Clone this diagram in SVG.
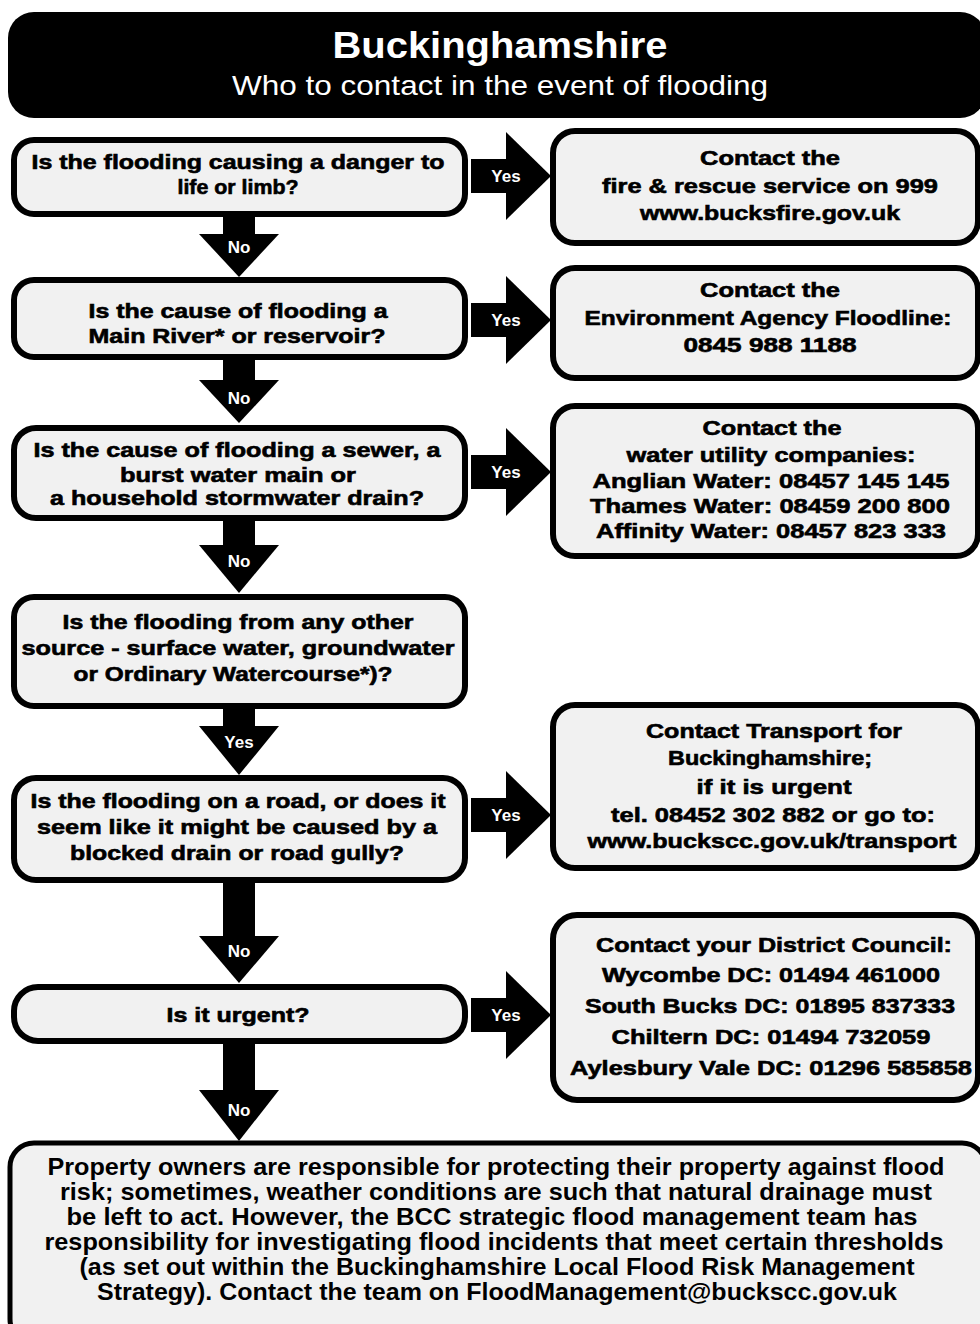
<svg xmlns="http://www.w3.org/2000/svg" width="980" height="1324" viewBox="0 0 980 1324">
<style>
.box{fill:#f1f1f1;stroke:#000;stroke-width:6}
.q{font-family:"Liberation Sans",Arial,sans-serif;font-weight:bold;font-size:20px;fill:#000;stroke:#000;stroke-width:0.6;text-anchor:middle}
.hd{font-family:"Liberation Sans",Arial,sans-serif;fill:#fff;text-anchor:middle}
.nb{font-family:"Liberation Sans",Arial,sans-serif;font-weight:bold;font-size:24px;fill:#000;text-anchor:middle}
.arr{fill:#000}
.lab{font-family:"Liberation Sans",Arial,sans-serif;font-weight:bold;font-size:17px;fill:#fff;text-anchor:middle}
</style>
<rect width="980" height="1324" fill="#fff"/>
<g id="header">
<rect x="8" y="12" width="978" height="106" rx="26" fill="#000"/>
<text class="hd" x="500" y="58" font-size="37" font-weight="bold" textLength="335" lengthAdjust="spacingAndGlyphs">Buckinghamshire</text>
<text class="hd" x="500" y="95" font-size="28" textLength="536" lengthAdjust="spacingAndGlyphs">Who to contact in the event of flooding</text>
</g>
<g id="connectors">
<rect class="arr" x="471" y="159" width="38" height="34"/><polygon class="arr" points="506,132 551,176 506,220"/><text class="lab" x="506" y="182">Yes</text>
<rect class="arr" x="471" y="303" width="38" height="34"/><polygon class="arr" points="506,276 551,320 506,364"/><text class="lab" x="506" y="326">Yes</text>
<rect class="arr" x="471" y="455" width="38" height="34"/><polygon class="arr" points="506,428 551,472 506,516"/><text class="lab" x="506" y="478">Yes</text>
<rect class="arr" x="471" y="798" width="38" height="34"/><polygon class="arr" points="506,771 551,815 506,859"/><text class="lab" x="506" y="821">Yes</text>
<rect class="arr" x="471" y="998" width="38" height="34"/><polygon class="arr" points="506,971 551,1015 506,1059"/><text class="lab" x="506" y="1021">Yes</text>
<rect class="arr" x="223" y="215" width="32" height="21"/><polygon class="arr" points="199,234 279,234 239,277"/><text class="lab" x="239" y="253">No</text>
<rect class="arr" x="223" y="358" width="32" height="24"/><polygon class="arr" points="199,380 279,380 239,423"/><text class="lab" x="239" y="404">No</text>
<rect class="arr" x="223" y="520" width="32" height="27"/><polygon class="arr" points="199,545 279,545 239,593"/><text class="lab" x="239" y="567">No</text>
<rect class="arr" x="223" y="707" width="32" height="21"/><polygon class="arr" points="199,726 279,726 239,775"/><text class="lab" x="239" y="748">Yes</text>
<rect class="arr" x="223" y="882" width="32" height="56"/><polygon class="arr" points="199,936 279,936 239,983"/><text class="lab" x="239" y="957">No</text>
<rect class="arr" x="223" y="1043" width="32" height="49"/><polygon class="arr" points="199,1090 279,1090 239,1141"/><text class="lab" x="239" y="1116">No</text>
</g>
<g id="q1">
<rect class="box" x="14" y="140" width="451" height="74" rx="20"/>
<text class="q" x="238" y="169" textLength="413" lengthAdjust="spacingAndGlyphs">Is the flooding causing a danger to</text>
<text class="q" x="238" y="194" textLength="121" lengthAdjust="spacingAndGlyphs">life or limb?</text>
</g>
<g id="q2">
<rect class="box" x="14" y="280" width="451" height="77" rx="20"/>
<text class="q" x="238" y="318" textLength="299" lengthAdjust="spacingAndGlyphs">Is the cause of flooding a</text>
<text class="q" x="237" y="343" textLength="297" lengthAdjust="spacingAndGlyphs">Main River* or reservoir?</text>
</g>
<g id="q3">
<rect class="box" x="14" y="428" width="451" height="90" rx="22"/>
<text class="q" x="237" y="457" textLength="407" lengthAdjust="spacingAndGlyphs">Is the cause of flooding a sewer, a</text>
<text class="q" x="238" y="482" textLength="236" lengthAdjust="spacingAndGlyphs">burst water main or</text>
<text class="q" x="237" y="505" textLength="374" lengthAdjust="spacingAndGlyphs">a household stormwater drain?</text>
</g>
<g id="q4">
<rect class="box" x="14" y="597" width="451" height="109" rx="20"/>
<text class="q" x="238" y="629" textLength="351" lengthAdjust="spacingAndGlyphs">Is the flooding from any other</text>
<text class="q" x="238" y="655" textLength="433" lengthAdjust="spacingAndGlyphs">source - surface water, groundwater</text>
<text class="q" x="233" y="681" textLength="319" lengthAdjust="spacingAndGlyphs">or Ordinary Watercourse*)?</text>
</g>
<g id="q5">
<rect class="box" x="14" y="778" width="451" height="102" rx="22"/>
<text class="q" x="238" y="808" textLength="415" lengthAdjust="spacingAndGlyphs">Is the flooding on a road, or does it</text>
<text class="q" x="237" y="834" textLength="400" lengthAdjust="spacingAndGlyphs">seem like it might be caused by a</text>
<text class="q" x="237" y="860" textLength="334" lengthAdjust="spacingAndGlyphs">blocked drain or road gully?</text>
</g>
<g id="q6">
<rect class="box" x="14" y="987" width="451" height="54" rx="24"/>
<text class="q" x="238" y="1022" textLength="143" lengthAdjust="spacingAndGlyphs">Is it urgent?</text>
</g>
<g id="r1">
<rect class="box" x="553" y="131" width="425" height="112" rx="22"/>
<text class="q" x="770" y="165" textLength="140" lengthAdjust="spacingAndGlyphs">Contact the</text>
<text class="q" x="770" y="193" textLength="336" lengthAdjust="spacingAndGlyphs">fire &amp; rescue service on 999</text>
<text class="q" x="770" y="220" textLength="260" lengthAdjust="spacingAndGlyphs">www.bucksfire.gov.uk</text>
</g>
<g id="r2">
<rect class="box" x="553" y="268" width="425" height="110" rx="22"/>
<text class="q" x="770" y="297" textLength="140" lengthAdjust="spacingAndGlyphs">Contact the</text>
<text class="q" x="768" y="325" textLength="367" lengthAdjust="spacingAndGlyphs">Environment Agency Floodline:</text>
<text class="q" x="770" y="352" textLength="173" lengthAdjust="spacingAndGlyphs">0845 988 1188</text>
</g>
<g id="r3">
<rect class="box" x="553" y="406" width="425" height="150" rx="22"/>
<text class="q" x="772" y="435" textLength="139" lengthAdjust="spacingAndGlyphs">Contact the</text>
<text class="q" x="771" y="462" textLength="289" lengthAdjust="spacingAndGlyphs">water utility companies:</text>
<text class="q" x="771" y="488" textLength="357" lengthAdjust="spacingAndGlyphs">Anglian Water: 08457 145 145</text>
<text class="q" x="770" y="513" textLength="360" lengthAdjust="spacingAndGlyphs">Thames Water: 08459 200 800</text>
<text class="q" x="771" y="538" textLength="350" lengthAdjust="spacingAndGlyphs">Affinity Water: 08457 823 333</text>
</g>
<g id="r5">
<rect class="box" x="553" y="705" width="425" height="163" rx="22"/>
<text class="q" x="774" y="738" textLength="256" lengthAdjust="spacingAndGlyphs">Contact Transport for</text>
<text class="q" x="770" y="765" textLength="204" lengthAdjust="spacingAndGlyphs">Buckinghamshire;</text>
<text class="q" x="774" y="794" textLength="155" lengthAdjust="spacingAndGlyphs">if it is urgent</text>
<text class="q" x="773" y="822" textLength="324" lengthAdjust="spacingAndGlyphs">tel. 08452 302 882 or go to:</text>
<text class="q" x="772" y="848" textLength="369" lengthAdjust="spacingAndGlyphs">www.buckscc.gov.uk/transport</text>
</g>
<g id="r6">
<rect class="box" x="553" y="915" width="425" height="185" rx="24"/>
<text class="q" x="774" y="952" textLength="356" lengthAdjust="spacingAndGlyphs">Contact your District Council:</text>
<text class="q" x="771" y="982" textLength="338" lengthAdjust="spacingAndGlyphs">Wycombe DC: 01494 461000</text>
<text class="q" x="770" y="1013" textLength="370" lengthAdjust="spacingAndGlyphs">South Bucks DC: 01895 837333</text>
<text class="q" x="771" y="1044" textLength="319" lengthAdjust="spacingAndGlyphs">Chiltern DC: 01494 732059</text>
<text class="q" x="771" y="1075" textLength="402" lengthAdjust="spacingAndGlyphs">Aylesbury Vale DC: 01296 585858</text>
</g>
<g id="footer">
<rect class="box" x="10" y="1143" width="976" height="200" rx="24" style="stroke-width:5"/>
<text class="nb" x="496" y="1175" textLength="897" lengthAdjust="spacingAndGlyphs">Property owners are responsible for protecting their property against flood</text>
<text class="nb" x="496" y="1200" textLength="872" lengthAdjust="spacingAndGlyphs">risk; sometimes, weather conditions are such that natural drainage must</text>
<text class="nb" x="492" y="1225" textLength="851" lengthAdjust="spacingAndGlyphs">be left to act. However, the BCC strategic flood management team has</text>
<text class="nb" x="494" y="1250" textLength="899" lengthAdjust="spacingAndGlyphs">responsibility for investigating flood incidents that meet certain thresholds</text>
<text class="nb" x="497" y="1275" textLength="835" lengthAdjust="spacingAndGlyphs">(as set out within the Buckinghamshire Local Flood Risk Management</text>
<text class="nb" x="497" y="1300" textLength="800" lengthAdjust="spacingAndGlyphs">Strategy). Contact the team on FloodManagement@buckscc.gov.uk</text>
</g>
</svg>
